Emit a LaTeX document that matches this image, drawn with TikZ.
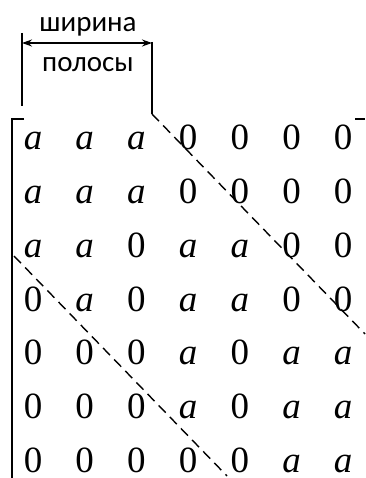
\documentclass[tikz,border=0pt]{standalone}
\usepackage{fontspec}
\setmainfont{Liberation Serif}
\newfontfamily\matfont{Liberation Serif}
\newfontfamily\labelfont{Carlito}
\usetikzlibrary{arrows.meta}

\newcommand{\va}{\textit{a}}

\begin{document}
\begin{tikzpicture}[x=1pt,y=-1pt,>={Stealth[length=10pt,width=7pt]},
  entry/.style={font=\matfont\fontsize{37}{37}\selectfont, inner sep=0pt, anchor=base},
  caption/.style={font=\labelfont\fontsize{29}{29}\selectfont, inner sep=0pt, anchor=base},
  band/.style={line width=1.4pt, dash pattern=on 10pt off 6pt},
  bracket/.style={line width=1.8pt}]

\useasboundingbox (0,0) rectangle (365,478);

% ---- elementi della matrice ----
\foreach \row [count=\r] in {{\va,\va,\va,0,0,0,0},{\va,\va,\va,0,0,0,0},
    {\va,\va,0,\va,\va,0,0},{0,\va,0,\va,\va,0,0},{0,0,0,\va,0,\va,\va},
    {0,0,0,\va,0,\va,\va},{0,0,0,0,0,\va,\va}}
  \foreach \e [count=\c] in \row
    \node[entry] (m-\r-\c) at ({33+51.7*(\c-1)},{150+53.7*(\r-1)}) {\e};

% ---- parentesi ----
\draw[bracket] (24,119) -- (12,119) -- (12,478);
\draw[bracket] (355,119) -- (365,119);

% ---- larghezza di banda ----
\coordinate (wl-top) at (22,33);
\coordinate (wl-bot) at (22,106);
\coordinate (wr-top) at (152,42);
\coordinate (wr-bot) at (152,114);
\draw[line width=1.6pt] (wl-top) -- (wl-bot);
\draw[line width=1.6pt] (wr-top) -- (wr-bot);
\coordinate (wl-arr) at (22,43);
\coordinate (wr-arr) at (152,43);
\draw[<->,line width=1.6pt] (wl-arr) -- (wr-arr);
\node[caption] (w-top) at (88,32) {ширина};
\node[caption] (w-bot) at (88,72) {полосы};

% ---- diagonali tratteggiate ----
\coordinate (up-end) at (365,334);
\coordinate (lo-start) at (14,256);
\coordinate (lo-end) at (227,476);
\draw[band] (wr-bot) -- (up-end);
\draw[band] (lo-start) -- (lo-end);

\end{tikzpicture}
\end{document}
